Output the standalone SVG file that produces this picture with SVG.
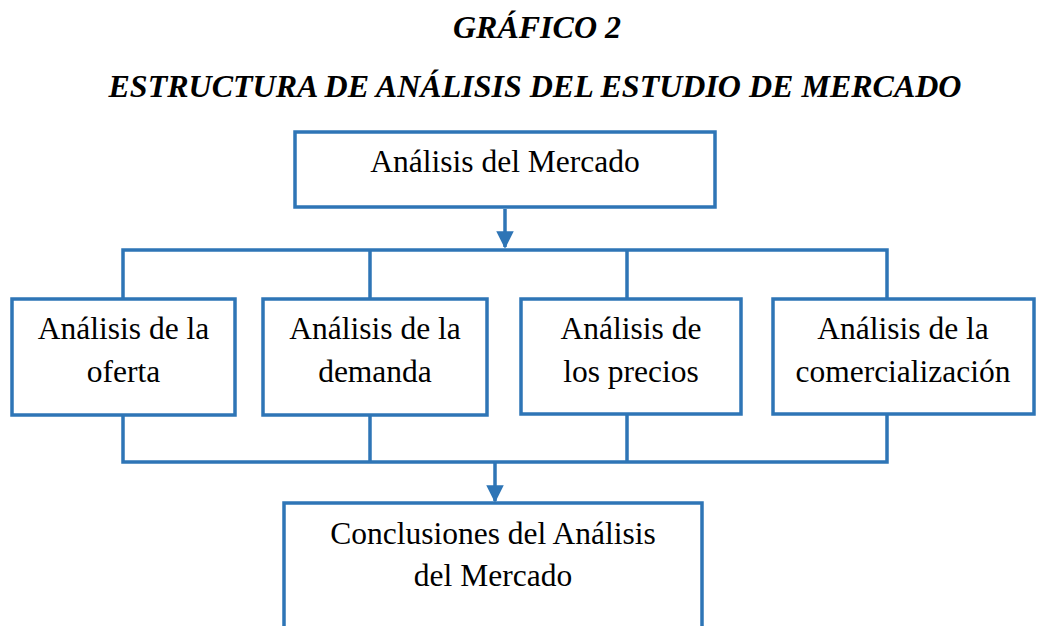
<svg xmlns="http://www.w3.org/2000/svg" width="1037" height="626" viewBox="0 0 1037 626">
<style>
.box{fill:#fff;stroke:#2E75B6;stroke-width:3.5}
.ln{fill:none;stroke:#2E75B6;stroke-width:3.5}
.t{font-family:"Liberation Serif","Times New Roman",serif;font-size:31.5px;fill:#000;text-anchor:middle}
.h{font-family:"Liberation Serif","Times New Roman",serif;font-size:32px;font-weight:bold;font-style:italic;fill:#000;text-anchor:middle}
</style>
<defs>
<marker id="ah" markerWidth="5" markerHeight="5" refX="4.5" refY="2.5" orient="auto" markerUnits="strokeWidth">
<path d="M0,0 L5,2.5 L0,5 Z" fill="#2E75B6"/>
</marker>
</defs>
<rect width="1037" height="626" fill="#fff"/>
<text class="h" x="537" y="38">GRÁFICO 2</text>
<text class="h" x="535" y="97">ESTRUCTURA DE ANÁLISIS DEL ESTUDIO DE MERCADO</text>
<g id="connectors">
<line class="ln" x1="505" y1="209" x2="505" y2="247" marker-end="url(#ah)"/>
<path class="ln" d="M123,298 V250 H887 V298 M370,250 V298 M627,250 V298"/>
<path class="ln" d="M123,415 V462 H887 V415 M370,415 V462 M627,415 V462"/>
<line class="ln" x1="495" y1="462" x2="495" y2="501" marker-end="url(#ah)"/>
</g>
<g id="n-mercado">
<rect class="box" x="295" y="132" width="420" height="75"/>
<text class="t" x="505" y="172">Análisis del Mercado</text>
</g>
<g id="n-oferta">
<rect class="box" x="12" y="299" width="223" height="116"/>
<text class="t" x="123.5" y="339">Análisis de la</text>
<text class="t" x="123.5" y="382">oferta</text>
</g>
<g id="n-demanda">
<rect class="box" x="263" y="299" width="224" height="116"/>
<text class="t" x="375" y="339">Análisis de la</text>
<text class="t" x="375" y="382">demanda</text>
</g>
<g id="n-precios">
<rect class="box" x="521" y="299" width="220" height="115"/>
<text class="t" x="631" y="339">Análisis de</text>
<text class="t" x="631" y="382">los precios</text>
</g>
<g id="n-comercializacion">
<rect class="box" x="773" y="299" width="261" height="115"/>
<text class="t" x="903" y="339">Análisis de la</text>
<text class="t" x="903" y="382">comercialización</text>
</g>
<g id="n-conclusiones">
<rect class="box" x="284" y="503" width="418" height="130"/>
<text class="t" x="493" y="544">Conclusiones del Análisis</text>
<text class="t" x="493" y="586">del Mercado</text>
</g>
</svg>
